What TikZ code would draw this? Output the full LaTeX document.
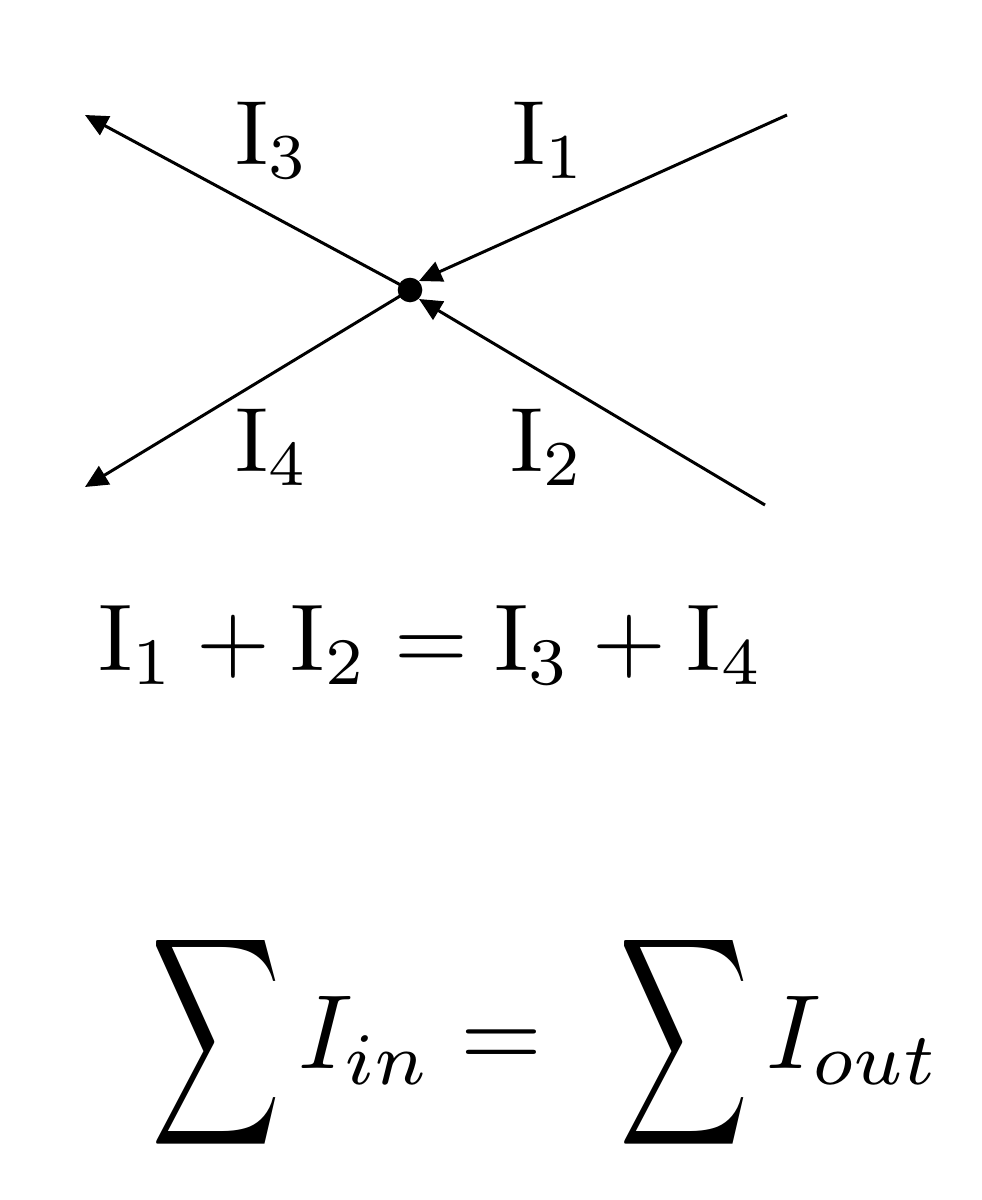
\documentclass[tikz,border=0pt]{standalone}
\usepackage{amsmath}
\usepackage{graphicx}
\usetikzlibrary{arrows.meta}
\newcommand{\Bsum}{\mathop{\vcenter{\hbox{\scalebox{0.85}[1.38]{$\displaystyle\sum$}}}}}
\begin{document}
\begin{tikzpicture}[x=0.02cm,y=-0.02cm,
  wire/.style={line width=1.7pt,-{Triangle[length=13pt,width=12pt]}},
  lbl/.style={inner sep=0pt}]
\useasboundingbox (0,0) rectangle (981,1200);
\node[circle,fill,inner sep=0pt,minimum size=14] (c) at (410,290) {};
\coordinate (e1) at (787,115);
\coordinate (e2) at (765,505);
\coordinate (e3) at (85,115);
\coordinate (e4) at (85,487);
\coordinate (t1) at (419,281);
\coordinate (t2) at (419,299);
\draw[wire] (e1) -- (t1);
\draw[wire] (e2) -- (t2);
\draw[wire] (c.center) -- (e3);
\draw[wire] (c.center) -- (e4);
\node[lbl] (l3) at (272,140) {\scalebox{5.2}{$\mathrm{I}_3$}};
\node[lbl] (l1) at (549,140) {\scalebox{5.2}{$\mathrm{I}_1$}};
\node[lbl] (l4) at (272,447) {\scalebox{5.2}{$\mathrm{I}_4$}};
\node[lbl] (l2) at (547,447) {\scalebox{5.2}{$\mathrm{I}_2$}};
\node[lbl] (kcl) at (431,645) {\scalebox{5.4}{$\mathrm{I}_1 + \mathrm{I}_2 = \mathrm{I}_3 + \mathrm{I}_4$}};
\node[lbl] (sum) at (546,1042) {\scalebox{6}{$\Bsum I_{in} = \;\,\Bsum I_{out}$}};
\end{tikzpicture}
\end{document}
